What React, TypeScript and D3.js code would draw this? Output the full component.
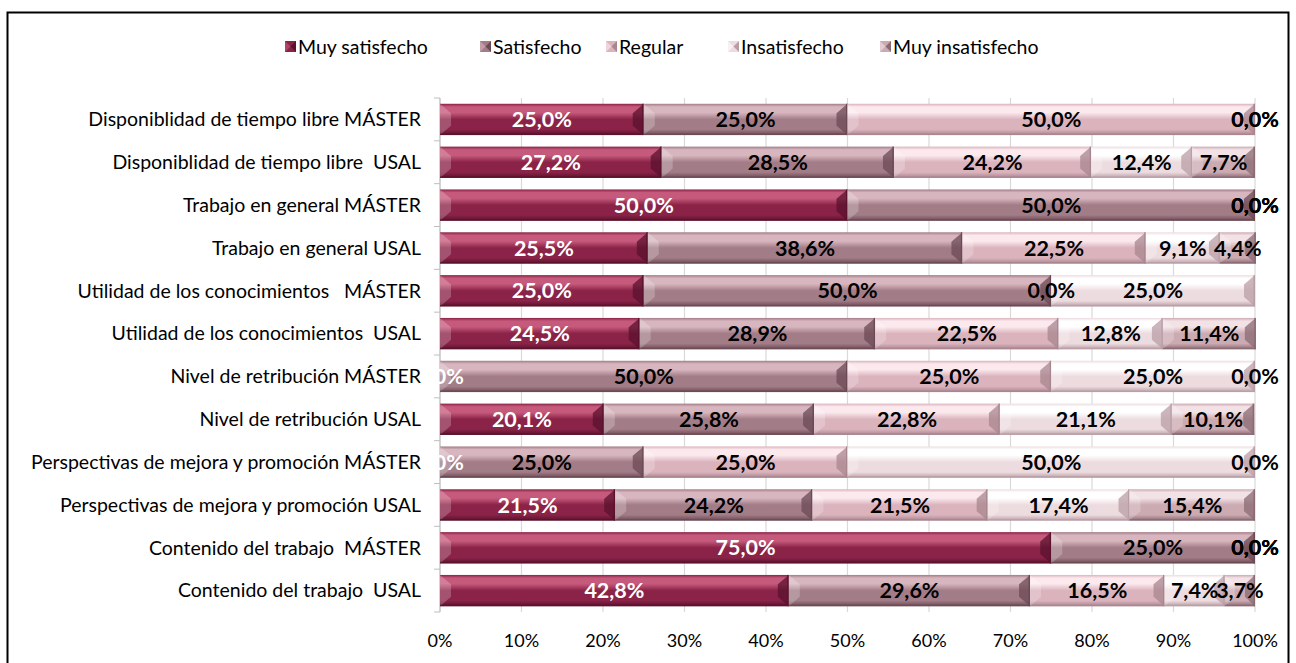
import React from "react";
import * as d3 from "d3";

const categories = [
  "Disponiblidad de tiempo libre MÁSTER",
  "Disponiblidad de tiempo libre  USAL",
  "Trabajo en general MÁSTER",
  "Trabajo en general USAL",
  "Utilidad de los conocimientos   MÁSTER",
  "Utilidad de los conocimientos  USAL",
  "Nivel de retribución MÁSTER",
  "Nivel de retribución USAL",
  "Perspectivas de mejora y promoción MÁSTER",
  "Perspectivas de mejora y promoción USAL",
  "Contenido del trabajo  MÁSTER",
  "Contenido del trabajo  USAL",
];

const seriesNames = ["Muy satisfecho", "Satisfecho", "Regular", "Insatisfecho", "Muy insatisfecho"];

const muySatisfecho = [25.0, 27.2, 50.0, 25.5, 25.0, 24.5, 0.0, 20.1, 0.0, 21.5, 75.0, 42.8];
const satisfecho = [25.0, 28.5, 50.0, 38.6, 50.0, 28.9, 50.0, 25.8, 25.0, 24.2, 25.0, 29.6];
const regular = [50.0, 24.2, 0.0, 22.5, 0.0, 22.5, 25.0, 22.8, 25.0, 21.5, 0.0, 16.5];
const insatisfecho = [0.0, 12.4, 0.0, 9.1, 25.0, 12.8, 25.0, 21.1, 50.0, 17.4, 0.0, 7.4];
const muyInsatisfecho: (number | null)[] = [0.0, 7.7, 0.0, 4.4, null, 11.4, 0.0, 10.1, 0.0, 15.4, 0.0, 3.7];

const seriesValues: (number | null)[][] = [muySatisfecho, satisfecho, regular, insatisfecho, muyInsatisfecho];

const xTicks = [0, 0.1, 0.2, 0.3, 0.4, 0.5, 0.6, 0.7, 0.8, 0.9, 1.0];

const palette = [
  { light: "#c65a7c", base: "#8a2347", dark: "#5a122d", label: "#ffffff" },
  { light: "#d8b6bf", base: "#a27c87", dark: "#6b4a54", label: "#000000" },
  { light: "#fbe9ee", base: "#dbb3bd", dark: "#a8858f", label: "#000000" },
  { light: "#ffffff", base: "#eddcdf", dark: "#b99ea6", label: "#000000" },
  { light: "#f2e2e6", base: "#ccaab2", dark: "#8a6a73", label: "#000000" },
];

const FONT = "Lato, 'Open Sans', sans-serif";

export default function App() {
  const width = 1296;
  const height = 663;
  const x = d3.scaleLinear().domain([0, 1]).range([440, 1255]);
  const y = d3
    .scaleBand<string>()
    .domain(categories)
    .range([98, 612])
    .paddingInner(0.27)
    .paddingOuter(0.135);
  const bw = y.bandwidth();
  const fmt = (v: number) => v.toFixed(1).replace(".", ",") + "%";

  type Seg = { cat: string; s: number; v: number | null; x0: number; x1: number };
  const segs: Seg[] = [];
  categories.forEach((cat, i) => {
    let acc = 0;
    seriesValues.forEach((arr, s) => {
      const v = arr[i];
      const val = v == null ? 0 : v / 100;
      segs.push({ cat, s, v, x0: acc, x1: acc + val });
      acc += val;
    });
  });

  const legendX = [285, 480, 606, 728, 880];

  return (
    <svg width={width} height={height} style={{ display: "block", position: "absolute", left: 0, top: 0 }}>
      <defs>
        {palette.map((p, i) => (
          <linearGradient key={i} id={`g${i}`} x1="0" y1="0" x2="0" y2="1">
            <stop offset="0" stopColor={p.base} />
            <stop offset="0.1" stopColor={p.light} />
            <stop offset="0.28" stopColor={p.light} />
            <stop offset="0.5" stopColor={p.base} />
            <stop offset="0.82" stopColor={p.base} />
            <stop offset="1" stopColor={p.dark} />
          </linearGradient>
        ))}
      </defs>
      <rect x={0} y={0} width={width} height={height} fill="#ffffff" />
      <rect x={7.5} y={12.5} width={1281} height={670} fill="none" stroke="#000" strokeWidth={2} />

      {/* gridlines */}
      {xTicks.map((t) => (
        <line key={t} x1={x(t)} x2={x(t)} y1={98} y2={612} stroke="#d9d9d9" strokeWidth={1.2} />
      ))}
      {/* category axis */}
      <line x1={440} x2={440} y1={98} y2={612} stroke="#bfbfbf" />
      {d3.range(categories.length + 1).map((k) => {
        const yy = 98 + k * y.step();
        return <line key={k} x1={434} x2={440} y1={yy} y2={yy} stroke="#bfbfbf" />;
      })}

      {/* bars */}
      {segs
        .filter((d) => d.v != null && d.v > 0)
        .map((d, k) => {
          const x0 = x(d.x0);
          const x1 = x(d.x1);
          const w = x1 - x0;
          const y0 = y(d.cat)!;
          const p = palette[d.s];
          const b = Math.min(11, w / 3);
          return (
            <g key={k}>
              <rect x={x0} y={y0} width={w} height={bw} fill={`url(#g${d.s})`} />
              <polygon
                points={`${x0},${y0} ${x0 + b},${y0 + bw * 0.3} ${x0 + b},${y0 + bw * 0.7} ${x0},${y0 + bw}`}
                fill="#ffffff"
                opacity={0.22}
              />
              <polygon
                points={`${x1},${y0} ${x1 - b},${y0 + bw * 0.3} ${x1 - b},${y0 + bw * 0.7} ${x1},${y0 + bw}`}
                fill={p.dark}
                opacity={0.75}
              />
              <rect x={x0} y={y0 + bw - 1.5} width={w} height={1.5} fill={p.dark} opacity={0.8} />
              <rect x={x1 - 1.5} y={y0} width={1.5} height={bw} fill={p.dark} />
            </g>
          );
        })}

      {/* data labels */}
      {segs
        .filter((d) => d.v != null)
        .map((d, k) => (
          <text
            key={k}
            x={(x(d.x0) + x(d.x1)) / 2}
            y={y(d.cat)! + bw / 2}
            dy="0.36em"
            textAnchor="middle"
            fontFamily={FONT}
            fontWeight={700}
            fontSize={21.5}
            fill={palette[d.s].label}
          >
            {fmt(d.v as number)}
          </text>
        ))}

      {/* category labels */}
      {categories.map((c) => (
        <text
          key={c}
          x={421}
          y={y(c)! + bw / 2}
          dy="0.35em"
          textAnchor="end"
          fontFamily={FONT}
          fontSize={19.5}
          fill="#000"
          style={{ whiteSpace: "pre" }}
        >
          {c}
        </text>
      ))}

      {/* x tick labels */}
      {xTicks.map((t) => (
        <text
          key={t}
          x={x(t)}
          y={641}
          dy="0.35em"
          textAnchor="middle"
          fontFamily={FONT}
          fontSize={18}
          fill="#000"
        >
          {d3.format(".0%")(t)}
        </text>
      ))}

      {/* legend */}
      {seriesNames.map((n, i) => {
        const lx = legendX[i];
        const ly = 41;
        const s = 11;
        const p = palette[i];
        return (
          <g key={n}>
            <rect x={lx} y={ly} width={s} height={s} fill={p.base} />
            <polygon points={`${lx},${ly} ${lx + s / 2},${ly + s / 2} ${lx},${ly + s}`} fill={p.light} opacity={0.6} />
            <polygon points={`${lx + s},${ly} ${lx + s / 2},${ly + s / 2} ${lx + s},${ly + s}`} fill={p.dark} />
            <text x={lx + 13} y={ly + s / 2} dy="0.36em" fontFamily={FONT} fontSize={19.5} fill="#000">
              {n}
            </text>
          </g>
        );
      })}
    </svg>
  );
}
